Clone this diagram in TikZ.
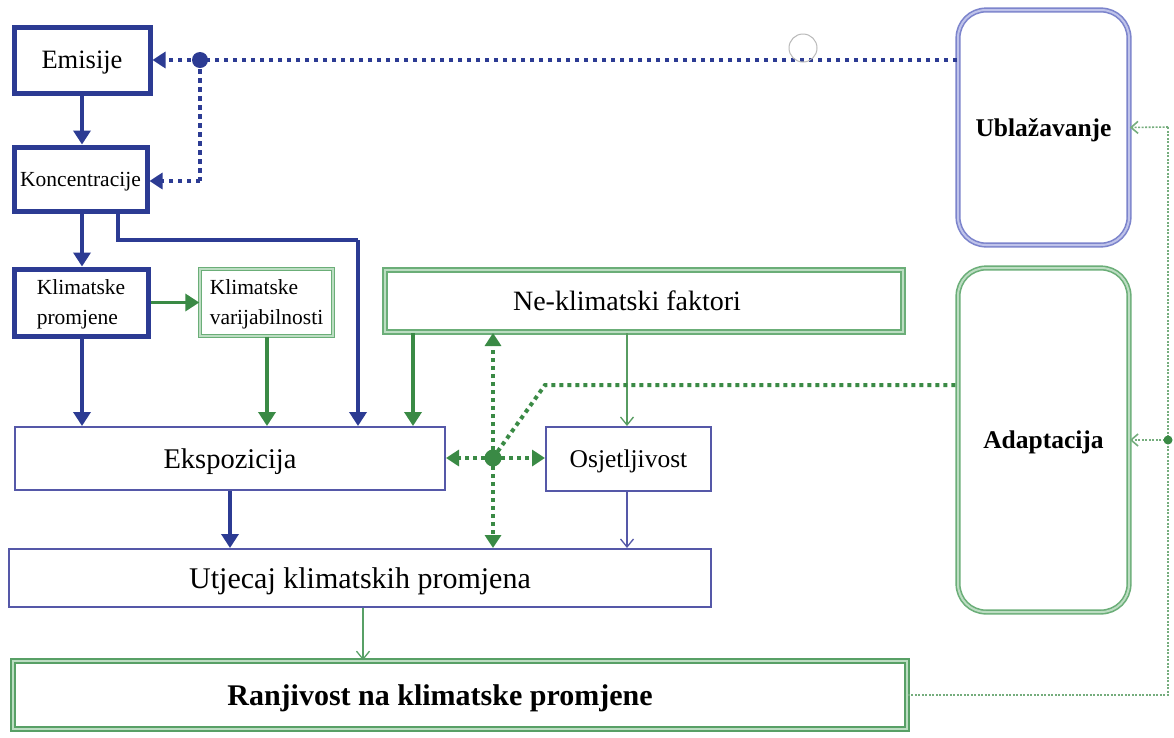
\documentclass[tikz,border=0pt]{standalone}
\usepackage{fontspec}
\setmainfont{Liberation Serif}
\usetikzlibrary{arrows.meta,calc}
\definecolor{dblue}{HTML}{2C3B93}
\definecolor{mblue}{HTML}{5558A8}
\definecolor{lblue}{HTML}{7C84CC}
\definecolor{pblue}{HTML}{BFC3EA}
\definecolor{dgreen}{HTML}{3A8A45}
\definecolor{lgreen}{HTML}{6BAE78}
\definecolor{pgreen}{HTML}{BCDDC2}
\definecolor{rgreen}{HTML}{58A066}
\begin{document}
\begin{tikzpicture}[x=1pt,y=-1pt,
  thickbox/.style={draw=dblue, line width=5pt, inner sep=0pt},
  thinbox/.style={draw=mblue, line width=2pt, inner sep=0pt},
  greenbox/.style={draw=lgreen, double=pgreen, double distance=1.8pt, line width=1.4pt, inner sep=0pt},
  bigbox/.style={draw=rgreen, double=pgreen, double distance=2.2pt, line width=1.6pt, inner sep=0pt},
  roundbox/.style={rounded corners=28pt, double distance=2pt, line width=1.6pt, inner sep=0pt, minimum width=171pt},
  fs/.style={font=\fontsize{#1}{30}\selectfont},
  bfs/.style={font=\fontsize{#1}{#1}\selectfont\bfseries},
  tc/.style={text height=#1, text depth=0pt},
  thickarrow/.style={line width=3.5pt, -{Triangle[length=14pt,width=17pt]}},
  thinarrow/.style={line width=1.3pt, -{Straight Barb[length=8pt,width=13pt]}},
  bdots/.style={draw=dblue, line width=4.5pt, dash pattern=on 4.5pt off 4.5pt},
  gdots/.style={draw=dgreen, line width=4pt, dash pattern=on 4pt off 4pt},
  dottip/.style={-{Triangle[length=13pt,width=16pt]}},
  fdots/.style={draw=dgreen!70, line width=1.4pt, dash pattern=on 2pt off 1.5pt},
]
\useasboundingbox (0,0) rectangle (1174,737);
\fill[white] (0,0) rectangle (1174,737);

% boxes
\node[thickbox, minimum width=136pt, minimum height=66pt, fs=26.5, tc=17pt] (em) at (82,60) {Emisije};
\node[thickbox, minimum width=133pt, minimum height=64pt, fs=21.5, tc=14pt] (ko) at (80.5,179) {Koncentracije};
\node[thickbox, minimum width=134pt, minimum height=67pt, fs=21.5, align=left, text depth=0pt] (kp) at (81,302.5) {Klimatske\\promjene};
\node[greenbox, minimum width=133pt, minimum height=67pt, fs=21.5, align=left, text depth=0pt] (kv) at (266.5,302.5) {Klimatske\\varijabilnosti};
\node[greenbox, line width=2pt, double distance=2.5pt, minimum width=518pt, minimum height=62pt] (nk) at (644,301) {};
\node[fs=28, tc=18.5pt] (nkt) at (627,301) {Ne-klimatski faktori};
\node[thinbox, minimum width=430pt, minimum height=63pt, fs=28.5, tc=19pt] (ex) at (230,458.5) {Ekspozicija};
\node[thinbox, minimum width=165pt, minimum height=64pt, fs=25.5, tc=17pt] (os) at (628.5,459) {Osjetljivost};
\node[thinbox, minimum width=702pt, minimum height=58pt, fs=30, tc=20pt] (ut) at (360,578) {Utjecaj klimatskih promjena};
\node[bigbox, minimum width=894pt, minimum height=68pt] (rj) at (460,695) {};
\node[bfs=30, tc=20pt] (rjt) at (440,695) {Ranjivost na klimatske promjene};
\node[roundbox, draw=lblue, double=pblue, minimum height=235pt, bfs=25.5, tc=17pt] (ub) at (1043.5,127.5) {Ublažavanje};
\node[roundbox, draw=lgreen, double=pgreen, minimum height=344pt, bfs=25.5, tc=17pt] (ad) at (1043.5,440) {Adaptacija};

% coordinates
\coordinate (jb) at (200,60);
\coordinate (kb) at (200,181);
\coordinate (bx1) at (118,240);
\coordinate (bx2) at (358,240);
\coordinate (jg) at (493,458);
\coordinate (dg) at (545,385);
\coordinate (rc) at (1168,695);
\coordinate (rt) at (1168,127);
\coordinate (ra) at (1168,440);
\coordinate (c82) at (82,0);
\coordinate (c267) at (267,0);
\coordinate (c413) at (413,0);
\coordinate (c627) at (627,0);
\coordinate (c230) at (230,0);
\coordinate (c363) at (363,0);

% solid arrows
\draw[dblue, thickarrow] (em.south) -- (em.south |- ko.north);
\draw[dblue, thickarrow] (ko.south -| c82) -- (kp.north -| c82);
\draw[dblue, line width=3.5pt] (ko.south -| bx1) -- (bx1) -- (bx2);
\draw[dblue, thickarrow] (bx2) -- (bx2 |- ex.north);
\draw[dgreen, thickarrow] (kp.east) -- (kv.west);
\draw[dblue, thickarrow] (kp.south -| c82) -- (ex.north -| c82);
\draw[dgreen, thickarrow] (kv.south -| c267) -- (ex.north -| c267);
\draw[dgreen, thickarrow] (nk.south -| c413) -- (ex.north -| c413);
\draw[dgreen!85, thinarrow] (nk.south -| c627) -- (os.north -| c627);
\draw[dblue, thickarrow] (ex.south -| c230) -- (ut.north -| c230);
\draw[mblue, thinarrow] (os.south -| c627) -- (ut.north -| c627);
\draw[rgreen, thinarrow] (ut.south -| c363) -- (rj.north -| c363);

% blue dotted
\draw[bdots] (ub.west |- jb) -- (jb);
\draw[bdots, dottip, dblue] (jb) -- (jb -| em.east);
\draw[bdots] (jb) -- (kb);
\draw[bdots, dottip, dblue] (kb) -- (kb -| ko.east);
\fill[dblue] (jb) circle[radius=8];

% green dotted
\draw[gdots, dottip, dgreen] (jg) -- (jg |- nk.south);
\draw[gdots, dottip, dgreen] (jg) -- (jg |- ut.north);
\draw[gdots, dottip, dgreen] (jg) -- (jg -| ex.east);
\draw[gdots, dottip, dgreen] (jg) -- (jg -| os.west);
\draw[gdots] (jg) -- (dg) -- (dg -| ad.west);
\fill[dgreen] (jg) circle[radius=8.5];

% right thin dotted
\draw[fdots] (rj.east) -- (rc) -- (rt);
\draw[fdots, -{Straight Barb[length=7pt,width=12pt]}, line width=1.6pt] (rt) -- (ub.east);
\draw[fdots, -{Straight Barb[length=7pt,width=12pt]}, line width=1.6pt] (ra) -- (ad.east);
\fill[dgreen] (ra) circle[radius=4.5];

% grey ring
\draw[gray!55, line width=1pt] (803,48) circle[radius=14];
\end{tikzpicture}
\end{document}
